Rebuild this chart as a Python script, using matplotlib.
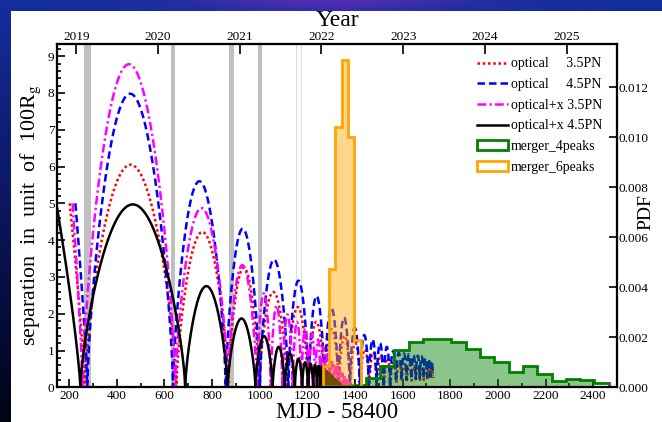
import numpy as np
import matplotlib
matplotlib.use("Agg")
import matplotlib.pyplot as plt
from matplotlib.lines import Line2D
from matplotlib.patches import Patch, Rectangle
from matplotlib.ticker import MultipleLocator, FormatStrFormatter

plt.rcParams["font.family"] = ["Liberation Serif", "DejaVu Serif"]
plt.rcParams["mathtext.fontset"] = "stix"

# ---------------- separation tracks (MJD-58400, 100 R_g) ----------------
# each track: first point, successive minima, arch maxima, minima heights
red_start = (202, 5.0)
red_zeros = [265, 650, 868, 998, 1116, 1203, 1272, 1332, 1380, 1422, 1460, 1492,
             1522, 1549, 1574, 1597, 1618, 1638, 1656, 1673, 1689, 1704, 1717, 1728]
red_peaks = [6.05, 4.22, 3.25, 2.59, 2.18, 1.78, 1.58, 1.40, 1.20, 1.03, 0.95, 0.88,
             0.80, 0.72, 0.68, 0.64, 0.61, 0.58, 0.56, 0.54, 0.52, 0.50, 0.48]
red_floors = [0, 0, 0, 0, 0, 0, 0, 0, 0, 0, 0, 0,
              0, 0, 0.12, 0.15, 0.15, 0.18, 0.18, 0.20, 0.20, 0.20, 0.22, 0.25]

blue_start = (226, 5.0)
blue_zeros = [276, 636, 857, 1000, 1120, 1205, 1272, 1330, 1378, 1420, 1458, 1490,
              1520, 1547, 1572, 1595, 1616, 1636, 1655, 1672, 1688, 1703, 1716, 1727]
blue_peaks = [7.98, 5.60, 4.31, 3.47, 2.90, 2.48, 2.16, 1.90, 1.62, 1.42, 1.30, 1.20,
              1.10, 0.98, 0.94, 0.92, 0.90, 0.88, 0.86, 0.84, 0.80, 0.76, 0.72]
blue_floors = [0, 0, 0, 0, 0, 0, 0, 0, 0, 0, 0, 0,
               0, 0, 0.15, 0.20, 0.20, 0.22, 0.22, 0.25, 0.25, 0.28, 0.30, 0.32]

mag_start = (214, 5.0)
mag_zeros = [256, 645, 866, 988, 1046, 1095, 1138, 1175, 1206, 1233, 1256, 1276, 1293,
             1308, 1321, 1332, 1342, 1351, 1359, 1366, 1372, 1377, 1381, 1385, 1388,
             1391, 1393]
mag_peaks = [8.78, 4.87, 3.32, 2.55, 2.22, 1.98, 1.78, 1.60, 1.45, 1.30, 1.12, 0.90,
             0.75, 0.63, 0.54, 0.46, 0.38, 0.31, 0.25, 0.20, 0.15, 0.11, 0.08, 0.05,
             0.03, 0.015]

blk_start = (150, 4.85)
blk_zeros = [247, 687, 865, 982, 1054, 1105, 1147, 1178, 1203, 1224, 1241, 1255, 1267,
             1277, 1286, 1294, 1301, 1307, 1313, 1318, 1323, 1327, 1331, 1335, 1338,
             1341, 1344, 1346, 1348, 1350]
blk_peaks = [4.97, 2.75, 1.87, 1.39, 1.10, 0.92, 0.78, 0.68, 0.64, 0.61, 0.59, 0.57,
             0.50, 0.44, 0.39, 0.34, 0.30, 0.26, 0.22, 0.19, 0.16, 0.135, 0.11, 0.09,
             0.07, 0.05, 0.03, 0.02, 0.01]

# ---------------- merger-time histograms (PDF) ----------------
m4_edges = [1265, 1325, 1385, 1445, 1505, 1565, 1625, 1685, 1745, 1805, 1865, 1925,
            1985, 2045, 2105, 2165, 2225, 2285, 2345, 2405, 2465]
m4_pdf = [0.00004, 0.00004, 0.00008, 0.00038, 0.00085, 0.00149, 0.00183, 0.00192,
          0.00192, 0.00181, 0.00155, 0.00123, 0.00103, 0.00060, 0.00085, 0.00053,
          0.00027, 0.00033, 0.00029, 0.00018]
m6_edges = [1264, 1290.5, 1317, 1344, 1370.5, 1397, 1424]
m6_pdf = [0.00085, 0.00475, 0.0104, 0.0131, 0.0100, 0.0019]

# ---------------- observing gaps ----------------
gap_lo = [261, 627, 870, 991]
gap_hi = [291, 645, 892, 1009]
thin_lo = [1151, 1173]
thin_hi = [1155, 1176]

# ---------------- top axis ----------------
year_labels = ["2019", "2020", "2021", "2022", "2023", "2024", "2025"]
year_pos = [230, 573, 916, 1259, 1603, 1946, 2289]


def separation_track(start, zeros, peaks, floors=None):
    x0, y0 = start
    z = np.asarray(zeros, float)
    p = np.asarray(peaks, float)
    f = np.zeros_like(z) if floors is None else np.asarray(floors, float)
    s = np.linspace(0, 1, 30)
    xs = [x0 + (z[0] - x0) * s]
    ys = [f[0] + (y0 - f[0]) * (1 - s) ** 0.8]
    for i in range(len(p)):
        a, b = z[i], z[i + 1]
        m = 0.5 * (a + b)
        n = int(np.clip((b - a) / 2, 6, 80))
        u = np.linspace(0, 1, n)
        rise = np.sin(0.5 * np.pi * u) ** 0.7
        xs.append(a + (m - a) * u)
        ys.append(f[i] + (p[i] - f[i]) * rise)
        xs.append(b - (b - m) * u[::-1])
        ys.append(f[i + 1] + (p[i] - f[i + 1]) * rise[::-1])
    return np.concatenate(xs), np.concatenate(ys)


W, H = 662, 422
fig = plt.figure(figsize=(W / 100, H / 100), dpi=100)

# backdrop frame
bg = fig.add_axes([0, 0, 1, 1], zorder=-10)
bg.set_axis_off()
gy = np.linspace(0, 1, 200)[:, None]
gx = np.linspace(0, 1, 300)[None, :]
tint = np.exp(-((gx - 0.5) / 0.2) ** 2) * np.exp(-gy / 0.04)
img = np.zeros((200, 300, 3))
img[..., 0] = 0.08 * (1 - gy) + 0.25 * tint
img[..., 1] = 0.02 + 0.16 * (1 - gy) ** 1.3 + 0.0 * gx
img[..., 2] = 0.07 + 0.55 * (1 - gy) ** 0.9 + 0.1 * tint
bg.imshow(np.clip(img, 0, 1), extent=[0, 1, 0, 1], aspect="auto", origin="upper")
bg.add_patch(Rectangle((11 / W, 0), 1, (H - 11) / H, color="white", lw=0))
bg.set_xlim(0, 1)
bg.set_ylim(0, 1)

ax = fig.add_axes([57.3 / W, (H - 387.3) / H, (617 - 57.3) / W, (387.3 - 44) / H])
ax.set_xlim(150, 2500)
ax.set_ylim(0, 9.33)

for lo, hi in zip(gap_lo, gap_hi):
    ax.axvspan(lo, hi, color="#c0c0c0", lw=0, zorder=0)
for lo, hi in zip(thin_lo, thin_hi):
    ax.axvspan(lo, hi, color="#dddddd", lw=0, zorder=0)

x, y = separation_track(red_start, red_zeros, red_peaks, red_floors)
ax.plot(x, y, color="red", lw=1.8, ls=(0, (1, 1.1)))
x, y = separation_track(blue_start, blue_zeros, blue_peaks, blue_floors)
ax.plot(x, y, color="blue", lw=1.8, ls=(0, (3.0, 1.6)))
x, y = separation_track(mag_start, mag_zeros, mag_peaks)
ax.plot(x, y, color="magenta", lw=1.8, ls=(0, (3.5, 1.3, 0.9, 1.3)))
x, y = separation_track(blk_start, blk_zeros, blk_peaks)
ax.plot(x, y, color="black", lw=1.8)

ax.xaxis.set_major_locator(MultipleLocator(200))
ax.xaxis.set_minor_locator(MultipleLocator(100))
ax.yaxis.set_major_locator(MultipleLocator(1))
ax.yaxis.set_minor_locator(MultipleLocator(0.2))
ax.tick_params(which="both", direction="in", top=False, right=False,
               labelsize=9.5, pad=2, width=1.2)
ax.tick_params(which="major", length=6)
ax.tick_params(which="minor", length=3)
ax.set_xlabel("MJD - 58400", fontsize=16.5, labelpad=0)
ax.set_ylabel(r"separation  in  unit  of  100R$_{\rm g}$", fontsize=15.8)
ax.yaxis.set_label_coords(-0.026, 0.5)

# merger PDFs on the right axis
ax2 = ax.twinx()
ax2.set_ylim(0, 0.01373)
e4 = np.asarray(m4_edges, float)
e6 = np.asarray(m6_edges, float)
ax2.fill_between(e4[:-1], m4_pdf, step="post", color="green", alpha=0.45, lw=0)
ax2.stairs(m4_pdf, e4, color="green", lw=2, baseline=0)
ax2.fill_between(e6[:-1], m6_pdf, step="post", color="orange", alpha=0.45, lw=0)
ax2.stairs(m6_pdf, e6, color="orange", lw=2, baseline=0)
ax2.yaxis.set_major_locator(MultipleLocator(0.002))
ax2.yaxis.set_major_formatter(FormatStrFormatter("%.3f"))
ax2.tick_params(direction="in", length=6, width=1.2, labelsize=9.5, pad=1)
fig.text(646 / W, 1 - 212.5 / H, "PDF", rotation=90, ha="center", va="center",
         fontsize=14)

# calendar years on top
ax3 = ax.twiny()
ax3.set_xlim(ax.get_xlim())
ax3.set_xticks(year_pos)
ax3.set_xticklabels(year_labels)
ax3.tick_params(direction="in", length=7, width=1.2, labelsize=9.5, pad=1)
ax3.set_xlabel("Year", fontsize=17, labelpad=3)

for a in (ax, ax2, ax3):
    for sp in a.spines.values():
        sp.set_linewidth(1.5)

handles = [
    Line2D([], [], color="red", lw=1.8, ls=(0, (1, 1.1))),
    Line2D([], [], color="blue", lw=1.8, ls=(0, (3.0, 1.6))),
    Line2D([], [], color="magenta", lw=1.8, ls=(0, (3.5, 1.3, 0.9, 1.3))),
    Line2D([], [], color="black", lw=1.8),
    Patch(facecolor="white", edgecolor="green", lw=2),
    Patch(facecolor="white", edgecolor="orange", lw=2),
]
labels = ["optical     3.5PN", "optical     4.5PN", "optical+x 3.5PN",
          "optical+x 4.5PN", "merger_4peaks", "merger_6peaks"]
ax3.legend(handles, labels, loc="upper right", bbox_to_anchor=(0.988, 0.985),
           frameon=False, fontsize=10, handlelength=2.2, handletextpad=0.2,
           labelspacing=0.55, borderaxespad=0.2)

fig.savefig("out.png", dpi=100)
